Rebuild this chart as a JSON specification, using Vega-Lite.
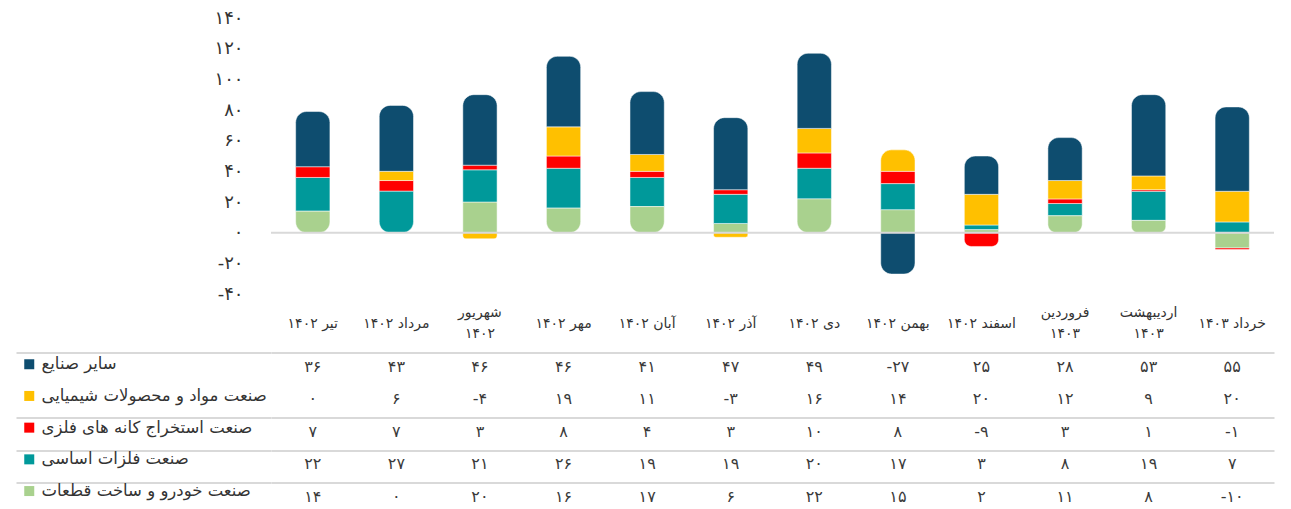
{
  "$schema": "https://vega.github.io/schema/vega-lite/v6.json",
  "padding": {"left": 15, "top": 9, "right": 0, "bottom": 0},
  "bounds": "flush",
  "spacing": 58.5,
  "background": "white",
  "config": {
    "view": {"stroke": null},
    "font": "DejaVu Sans",
    "locale": {
      "number": {
        "decimal": ".",
        "thousands": ",",
        "grouping": [3],
        "currency": ["", ""],
        "numerals": ["۰", "۱", "۲", "۳", "۴", "۵", "۶", "۷", "۸", "۹"],
        "minus": "\u202a-"
      }
    },
    "axis": {"labelFont": "DejaVu Sans", "labelColor": "#333333"},
    "axisY": {"labelOverlap": false},
    "legend": {"labelFont": "DejaVu Sans"}
  },
  "datasets": {
    "d": [
      {"month": "تیر ۱۴۰۲", "series": "صنعت خودرو و ساخت قطعات", "value": 14},
      {"month": "مرداد ۱۴۰۲", "series": "صنعت خودرو و ساخت قطعات", "value": 0},
      {"month": "شهریور ۱۴۰۲", "series": "صنعت خودرو و ساخت قطعات", "value": 20},
      {"month": "مهر ۱۴۰۲", "series": "صنعت خودرو و ساخت قطعات", "value": 16},
      {"month": "آبان ۱۴۰۲", "series": "صنعت خودرو و ساخت قطعات", "value": 17},
      {"month": "آذر ۱۴۰۲", "series": "صنعت خودرو و ساخت قطعات", "value": 6},
      {"month": "دی ۱۴۰۲", "series": "صنعت خودرو و ساخت قطعات", "value": 22},
      {"month": "بهمن ۱۴۰۲", "series": "صنعت خودرو و ساخت قطعات", "value": 15},
      {"month": "اسفند ۱۴۰۲", "series": "صنعت خودرو و ساخت قطعات", "value": 2},
      {"month": "فروردین ۱۴۰۳", "series": "صنعت خودرو و ساخت قطعات", "value": 11},
      {"month": "اردیبهشت ۱۴۰۳", "series": "صنعت خودرو و ساخت قطعات", "value": 8},
      {"month": "خرداد ۱۴۰۳", "series": "صنعت خودرو و ساخت قطعات", "value": -10},
      {"month": "تیر ۱۴۰۲", "series": "صنعت فلزات اساسی", "value": 22},
      {"month": "مرداد ۱۴۰۲", "series": "صنعت فلزات اساسی", "value": 27},
      {"month": "شهریور ۱۴۰۲", "series": "صنعت فلزات اساسی", "value": 21},
      {"month": "مهر ۱۴۰۲", "series": "صنعت فلزات اساسی", "value": 26},
      {"month": "آبان ۱۴۰۲", "series": "صنعت فلزات اساسی", "value": 19},
      {"month": "آذر ۱۴۰۲", "series": "صنعت فلزات اساسی", "value": 19},
      {"month": "دی ۱۴۰۲", "series": "صنعت فلزات اساسی", "value": 20},
      {"month": "بهمن ۱۴۰۲", "series": "صنعت فلزات اساسی", "value": 17},
      {"month": "اسفند ۱۴۰۲", "series": "صنعت فلزات اساسی", "value": 3},
      {"month": "فروردین ۱۴۰۳", "series": "صنعت فلزات اساسی", "value": 8},
      {"month": "اردیبهشت ۱۴۰۳", "series": "صنعت فلزات اساسی", "value": 19},
      {"month": "خرداد ۱۴۰۳", "series": "صنعت فلزات اساسی", "value": 7},
      {"month": "تیر ۱۴۰۲", "series": "صنعت استخراج کانه های فلزی", "value": 7},
      {"month": "مرداد ۱۴۰۲", "series": "صنعت استخراج کانه های فلزی", "value": 7},
      {"month": "شهریور ۱۴۰۲", "series": "صنعت استخراج کانه های فلزی", "value": 3},
      {"month": "مهر ۱۴۰۲", "series": "صنعت استخراج کانه های فلزی", "value": 8},
      {"month": "آبان ۱۴۰۲", "series": "صنعت استخراج کانه های فلزی", "value": 4},
      {"month": "آذر ۱۴۰۲", "series": "صنعت استخراج کانه های فلزی", "value": 3},
      {"month": "دی ۱۴۰۲", "series": "صنعت استخراج کانه های فلزی", "value": 10},
      {"month": "بهمن ۱۴۰۲", "series": "صنعت استخراج کانه های فلزی", "value": 8},
      {"month": "اسفند ۱۴۰۲", "series": "صنعت استخراج کانه های فلزی", "value": -9},
      {"month": "فروردین ۱۴۰۳", "series": "صنعت استخراج کانه های فلزی", "value": 3},
      {"month": "اردیبهشت ۱۴۰۳", "series": "صنعت استخراج کانه های فلزی", "value": 1},
      {"month": "خرداد ۱۴۰۳", "series": "صنعت استخراج کانه های فلزی", "value": -1},
      {"month": "تیر ۱۴۰۲", "series": "صنعت مواد و محصولات شیمیایی", "value": 0},
      {"month": "مرداد ۱۴۰۲", "series": "صنعت مواد و محصولات شیمیایی", "value": 6},
      {"month": "شهریور ۱۴۰۲", "series": "صنعت مواد و محصولات شیمیایی", "value": -4},
      {"month": "مهر ۱۴۰۲", "series": "صنعت مواد و محصولات شیمیایی", "value": 19},
      {"month": "آبان ۱۴۰۲", "series": "صنعت مواد و محصولات شیمیایی", "value": 11},
      {"month": "آذر ۱۴۰۲", "series": "صنعت مواد و محصولات شیمیایی", "value": -3},
      {"month": "دی ۱۴۰۲", "series": "صنعت مواد و محصولات شیمیایی", "value": 16},
      {"month": "بهمن ۱۴۰۲", "series": "صنعت مواد و محصولات شیمیایی", "value": 14},
      {"month": "اسفند ۱۴۰۲", "series": "صنعت مواد و محصولات شیمیایی", "value": 20},
      {"month": "فروردین ۱۴۰۳", "series": "صنعت مواد و محصولات شیمیایی", "value": 12},
      {"month": "اردیبهشت ۱۴۰۳", "series": "صنعت مواد و محصولات شیمیایی", "value": 9},
      {"month": "خرداد ۱۴۰۳", "series": "صنعت مواد و محصولات شیمیایی", "value": 20},
      {"month": "تیر ۱۴۰۲", "series": "سایر صنایع", "value": 36},
      {"month": "مرداد ۱۴۰۲", "series": "سایر صنایع", "value": 43},
      {"month": "شهریور ۱۴۰۲", "series": "سایر صنایع", "value": 46},
      {"month": "مهر ۱۴۰۲", "series": "سایر صنایع", "value": 46},
      {"month": "آبان ۱۴۰۲", "series": "سایر صنایع", "value": 41},
      {"month": "آذر ۱۴۰۲", "series": "سایر صنایع", "value": 47},
      {"month": "دی ۱۴۰۲", "series": "سایر صنایع", "value": 49},
      {"month": "بهمن ۱۴۰۲", "series": "سایر صنایع", "value": -27},
      {"month": "اسفند ۱۴۰۲", "series": "سایر صنایع", "value": 25},
      {"month": "فروردین ۱۴۰۳", "series": "سایر صنایع", "value": 28},
      {"month": "اردیبهشت ۱۴۰۳", "series": "سایر صنایع", "value": 53},
      {"month": "خرداد ۱۴۰۳", "series": "سایر صنایع", "value": 55}
    ]
  },
  "vconcat": [
    {
      "width": 1003,
      "height": 276,
      "layer": [
        {
          "data": {"name": "d"},
          "transform": [
            {"filter": "datum.value != 0"},
            {"stack": "value", "groupby": ["month"], "as": ["v0", "v1"]},
            {
              "joinaggregate": [
                {"op": "max", "field": "v1", "as": "top"},
                {"op": "min", "field": "v1", "as": "bot"},
                {"op": "min", "field": "value", "as": "minval"}
              ],
              "groupby": ["month"]
            }
          ],
          "encoding": {
            "x": {
              "field": "month",
              "type": "nominal",
              "sort": ["تیر ۱۴۰۲", "مرداد ۱۴۰۲", "شهریور ۱۴۰۲", "مهر ۱۴۰۲", "آبان ۱۴۰۲", "آذر ۱۴۰۲", "دی ۱۴۰۲", "بهمن ۱۴۰۲", "اسفند ۱۴۰۲", "فروردین ۱۴۰۳", "اردیبهشت ۱۴۰۳", "خرداد ۱۴۰۳"],
              "scale": {"paddingInner": 0.59, "paddingOuter": 0.295},
              "axis": {
                "title": null,
                "domain": false,
                "ticks": false,
                "tickSize": 0,
                "labelAngle": 0,
                "labelFontSize": 14,
                "labelBaseline": "middle",
                "labelPadding": {"condition": {"test": "indexof(['شهریور ۱۴۰۲','فروردین ۱۴۰۳','اردیبهشت ۱۴۰۳'], datum.label) >= 0", "value": 18}, "value": 29},
                "labelLineHeight": 21,
                "labelOverlap": false,
                "labelExpr": "indexof(['شهریور ۱۴۰۲','فروردین ۱۴۰۳','اردیبهشت ۱۴۰۳'], datum.label) >= 0 ? split(datum.label, ' ') : datum.label"
              }
            },
            "y": {
              "field": "v0",
              "type": "quantitative",
              "scale": {"domain": [-40, 140], "nice": false, "zero": false},
              "axis": {
                "title": null,
                "values": [-40, -20, 0, 20, 40, 60, 80, 100, 120, 140],
                "format": "d",
                "domain": false,
                "ticks": false,
                "tickSize": 0,
                "grid": false,
                "labelOverlap": false,
                "labelFontSize": 18,
                "labelPadding": 28
              }
            },
            "y2": {"field": "v1"},
            "color": {
              "field": "series",
              "type": "nominal",
              "scale": {
                "domain": ["سایر صنایع", "صنعت مواد و محصولات شیمیایی", "صنعت استخراج کانه های فلزی", "صنعت فلزات اساسی", "صنعت خودرو و ساخت قطعات"],
                "range": ["#0e4d6f", "#ffc000", "#ff0000", "#00999a", "#a9d18e"]
              },
              "legend": {
                "orient": "none",
                "legendX": -250,
                "legendY": 338,
                "title": null,
                "padding": 0,
                "symbolType": "square",
                "symbolSize": 100,
                "symbolStrokeWidth": 0,
                "labelFontSize": 16.5,
                "labelColor": "#333333",
                "labelOffset": 4,
                "labelLimit": 400,
                "rowPadding": 14.7
              }
            }
          },
          "layer": [
            {
              "transform": [{"filter": "!(datum.value > 0 && datum.v1 == datum.top) && !((datum.minval < 0 && datum.value < 0 && datum.v1 == datum.bot) || (datum.minval > 0 && datum.v0 == 0))"}],
              "mark": {"type": "bar", "stroke": "white", "strokeWidth": 0.5}
            },
            {
              "transform": [{"filter": "(datum.value > 0 && datum.v1 == datum.top) && !((datum.minval < 0 && datum.value < 0 && datum.v1 == datum.bot) || (datum.minval > 0 && datum.v0 == 0))"}],
              "mark": {"type": "bar", "stroke": "white", "strokeWidth": 0.5, "cornerRadiusTopLeft": 11, "cornerRadiusTopRight": 11}
            },
            {
              "transform": [{"filter": "!(datum.value > 0 && datum.v1 == datum.top) && ((datum.minval < 0 && datum.value < 0 && datum.v1 == datum.bot) || (datum.minval > 0 && datum.v0 == 0))"}],
              "mark": {"type": "bar", "stroke": "white", "strokeWidth": 0.5, "cornerRadiusBottomLeft": 11, "cornerRadiusBottomRight": 11}
            },
            {
              "transform": [{"filter": "(datum.value > 0 && datum.v1 == datum.top) && ((datum.minval < 0 && datum.value < 0 && datum.v1 == datum.bot) || (datum.minval > 0 && datum.v0 == 0))"}],
              "mark": {"type": "bar", "stroke": "white", "strokeWidth": 0.5, "cornerRadius": 11}
            }
          ]
        },
        {
          "data": {"values": [{}]},
          "mark": {"type": "rule", "color": "#d9d9d9", "strokeWidth": 2},
          "encoding": {
            "y": {
              "datum": 0,
              "type": "quantitative",
              "axis": {
                "title": null,
                "values": [-40, -20, 0, 20, 40, 60, 80, 100, 120, 140],
                "format": "d",
                "domain": false,
                "ticks": false,
                "tickSize": 0,
                "grid": false,
                "labelOverlap": false,
                "labelFontSize": 18,
                "labelPadding": 28
              }
            }
          }
        }
      ]
    },
    {
      "width": 1003,
      "height": 162.5,
      "data": {"name": "d"},
      "mark": {"type": "text", "fontSize": 16, "color": "#3a3a3a", "dy": -2},
      "encoding": {
        "x": {
          "field": "month",
          "type": "nominal",
          "sort": ["تیر ۱۴۰۲", "مرداد ۱۴۰۲", "شهریور ۱۴۰۲", "مهر ۱۴۰۲", "آبان ۱۴۰۲", "آذر ۱۴۰۲", "دی ۱۴۰۲", "بهمن ۱۴۰۲", "اسفند ۱۴۰۲", "فروردین ۱۴۰۳", "اردیبهشت ۱۴۰۳", "خرداد ۱۴۰۳"],
          "axis": null
        },
        "y": {
          "field": "series",
          "type": "nominal",
          "sort": ["سایر صنایع", "صنعت مواد و محصولات شیمیایی", "صنعت استخراج کانه های فلزی", "صنعت فلزات اساسی", "صنعت خودرو و ساخت قطعات"],
          "scale": {"type": "band", "paddingInner": 0, "paddingOuter": 0},
          "axis": {
            "title": null,
            "labels": false,
            "domain": false,
            "ticks": true,
            "tickSize": 255,
            "tickWidth": 2,
            "tickColor": "#d9d9d9",
            "grid": true,
            "gridColor": "#d9d9d9",
            "gridWidth": 2,
            "tickBand": "extent",
            "tickOpacity": {"condition": {"test": "datum.value === 'سایر صنایع'", "value": 0}, "value": 1},
            "gridOpacity": {"condition": {"test": "datum.value === 'سایر صنایع'", "value": 0}, "value": 1}
          }
        },
        "text": {"field": "value", "type": "quantitative", "format": "d"}
      }
    }
  ]
}
